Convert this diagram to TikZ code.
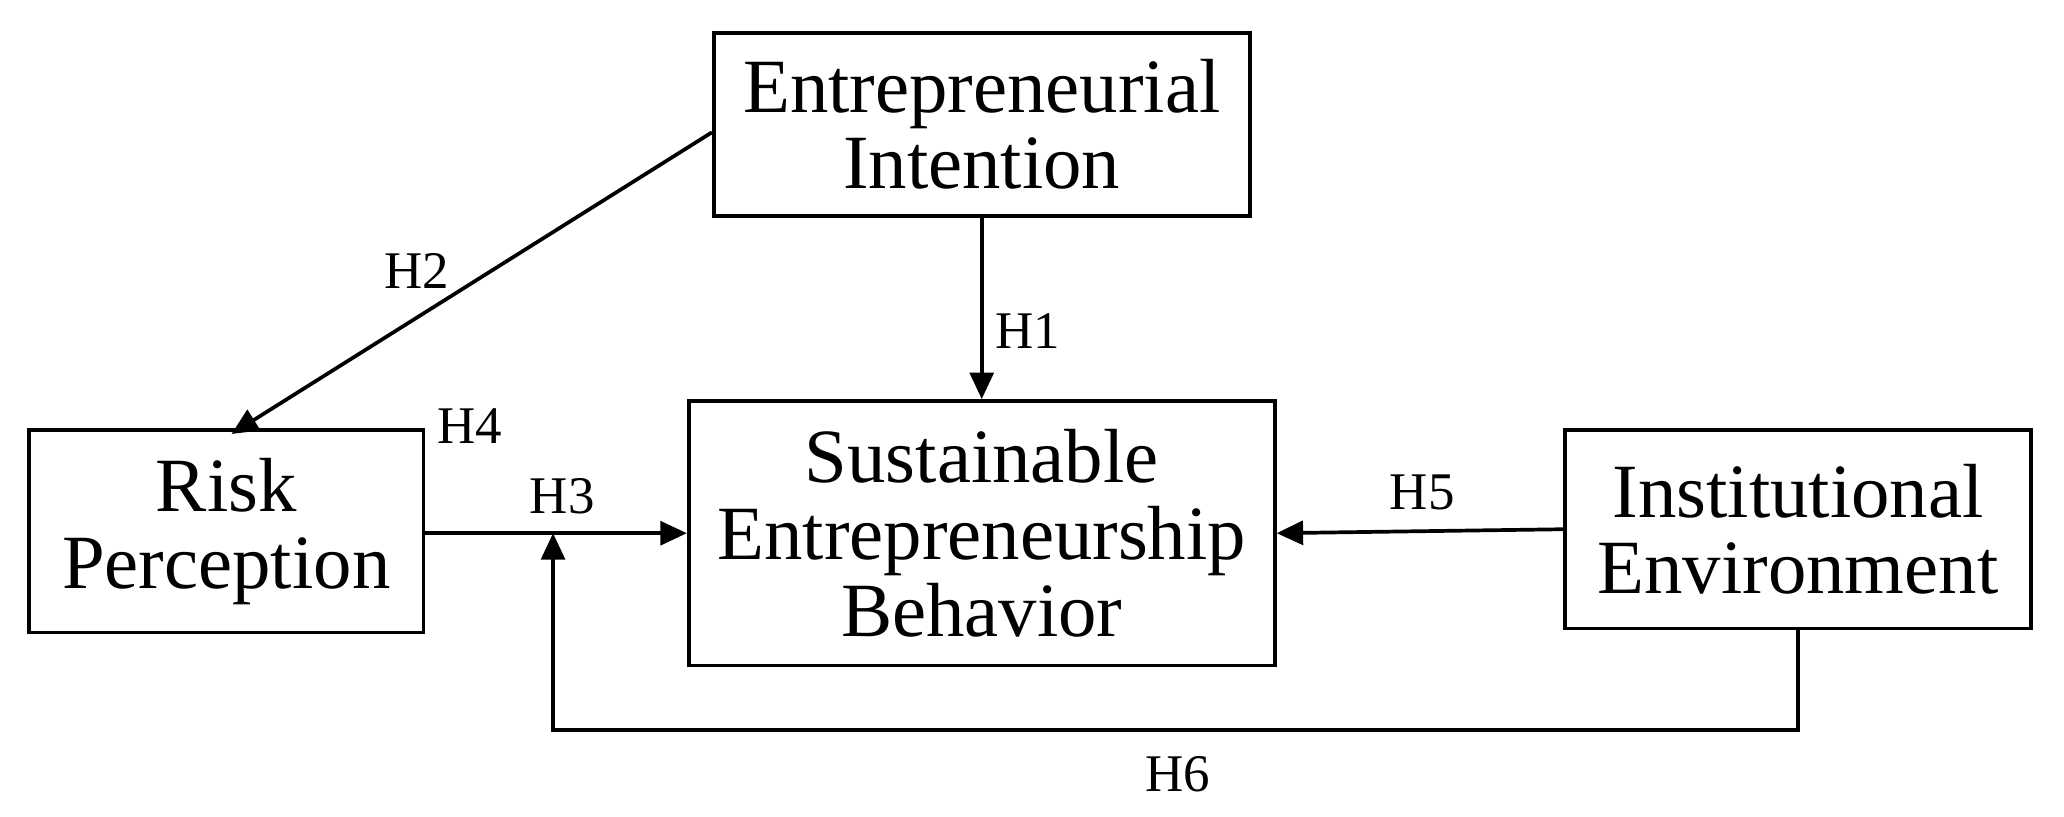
\documentclass[tikz,border=0pt]{standalone}
\usepackage{fontspec}
\setmainfont{Liberation Serif}
\usetikzlibrary{arrows.meta}
\begin{document}
\begin{tikzpicture}[x=0.5pt,y=-0.5pt,
 box/.style={draw,line width=1.4pt,align=center,font=\fontsize{29}{29}\selectfont,inner sep=0pt},
 lab/.style={font=\fontsize{20}{22}\selectfont},
 arr/.style={line width=1.4pt,-{Triangle[length=10pt,width=9pt]}}]
\useasboundingbox (0,0) rectangle (1560,617);
\node[box,minimum width=202.5pt,minimum height=69pt] (ei) at (742,94) {Entrepreneurial\\Intention};
\node[box,minimum width=149pt,minimum height=76.5pt] (rp) at (171,401.5) {Risk\\Perception};
\node[box,minimum width=221.5pt,minimum height=100pt] (seb) at (742,403) {Sustainable\\Entrepreneurship\\Behavior};
\node[box,minimum width=176pt,minimum height=75pt] (ie) at (1359,400) {Institutional\\Environment};
\coordinate (j) at (418,403);
\draw[arr] (ei.west |- 0,100) -- (175,328) coordinate (rpt);
\draw[arr] (ei.south) -- (seb.north);
\draw[arr] (rp.east |- j) -- (seb.west |- j);
\draw[arr] (ie.west) -- (seb.east |- j);
\draw[arr] (ie.south) -- (1359,552) -- (418,552) -- (j);
\node[lab] (h2) at (315,205) {H2};
\node[lab] (h1) at (777,250) {H1};
\node[lab] (h4) at (355,322) {H4};
\node[lab] (h3) at (425,375) {H3};
\node[lab] (h5) at (1075,372) {H5};
\node[lab] (h6) at (890,585) {H6};
\end{tikzpicture}
\end{document}
